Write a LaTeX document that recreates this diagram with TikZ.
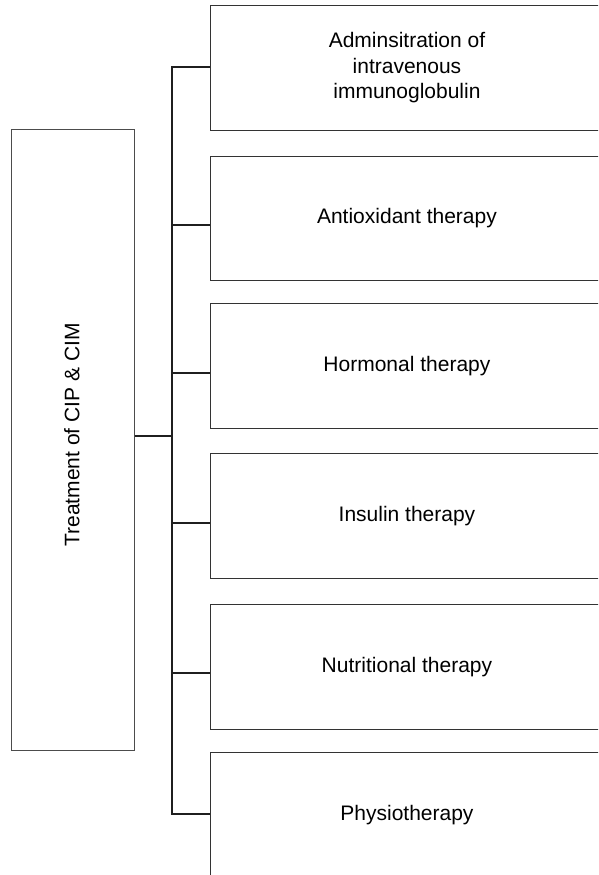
\documentclass[tikz,border=0pt]{standalone}
\usepackage{fontspec}
\setmainfont{Liberation Sans}
\begin{document}
\begin{tikzpicture}[x=1pt,y=-1pt,
  rbox/.style={draw=black!80,line width=0.9pt,minimum width=393pt,minimum height=125pt,anchor=north west,inner sep=0pt,align=center,font=\fontsize{21}{25.5}\selectfont},
  lbox/.style={draw=black!70,line width=0.9pt,minimum width=122.6pt,minimum height=621.4pt,inner sep=0pt},
  conn/.style={draw=black!88,line width=1.9pt}]
\useasboundingbox (0,0) rectangle (598,875);
\clip (0,0) rectangle (598,875);
\node[lbox] (L) at (73,440) {};
\node[rotate=90,font=\fontsize{21}{25}\selectfont,inner sep=0pt] (Lt) at (72,435) {Treatment of CIP \& CIM};
\node[rbox] (b1) at (210,5) {Adminsitration of\\intravenous\\immunoglobulin};
\node[rbox,minimum height=124.8pt] (b2) at (210,155.6) {Antioxidant therapy};
\node[rbox,minimum height=125.3pt] (b3) at (210,302.8) {Hormonal therapy};
\node[rbox] (b4) at (210,453.4) {Insulin therapy};
\node[rbox,minimum height=124.7pt] (b5) at (210,604.3) {Nutritional therapy};
\node[rbox] (b6) at (210,752) {Physiotherapy};
\coordinate (tTop) at (172,67);
\coordinate (tBot) at (172,813.7);
\coordinate (tMid) at (172,435.7);
\draw[conn,line cap=rect] (tTop) -- (tBot);
\draw[conn] (L.east |- tMid) -- (tMid);
\draw[conn] (tTop) -- (b1.west |- tTop);
\draw[conn] (172,225.3) -- (b2.west |- 0,225.3);
\draw[conn] (172,372.7) -- (b3.west |- 0,372.7);
\draw[conn] (172,522.7) -- (b4.west |- 0,522.7);
\draw[conn] (172,673.3) -- (b5.west |- 0,673.3);
\draw[conn] (tBot) -- (b6.west |- tBot);
\end{tikzpicture}
\end{document}
